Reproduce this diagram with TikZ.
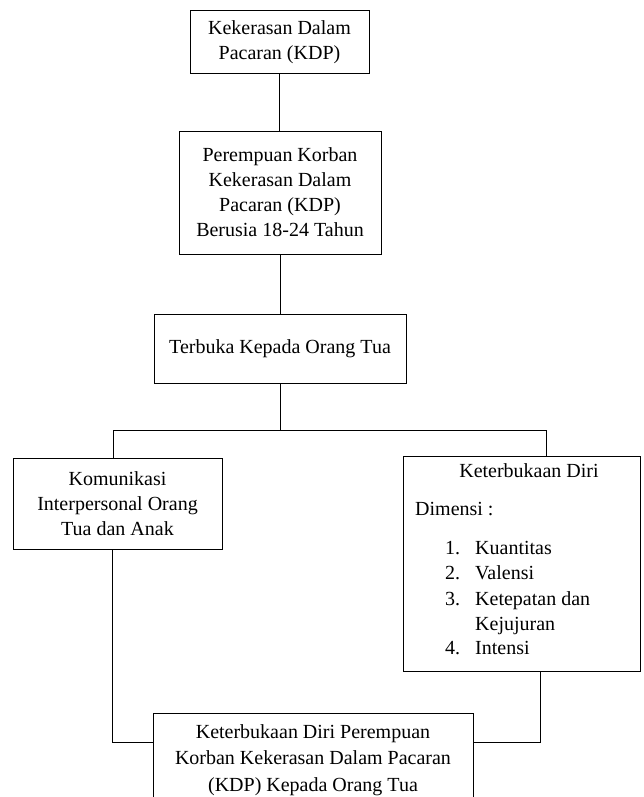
\documentclass[tikz,border=0pt]{standalone}
\usepackage{fontspec}
\setmainfont{Liberation Serif}
\begin{document}
\begin{tikzpicture}[x=1pt,y=-1pt,
  box/.style={draw, line width=1pt, align=center, inner sep=0pt, font=\fontsize{20}{25}\selectfont},
  txt/.style={inner sep=0pt, font=\fontsize{20}{25}\selectfont},
  link/.style={line width=1pt}]
\useasboundingbox (0,0) rectangle (644,797);
\node[box, minimum width=179pt, minimum height=63pt] (kdp) at (279.5,42.5) {Kekerasan Dalam\\Pacaran (KDP)};
\node[box, minimum width=202pt, minimum height=123pt] (korban) at (280,192.5) {Perempuan Korban\\Kekerasan Dalam\\Pacaran (KDP)\\Berusia 18-24 Tahun};
\node[box, minimum width=252pt, minimum height=69pt] (terbuka) at (280,348.5) {Terbuka Kepada Orang Tua};
\node[box, minimum width=209pt, minimum height=91pt] (kom) at (117.5,503.5) {Komunikasi\\Interpersonal Orang\\Tua dan Anak};
\node[box, minimum width=237pt, minimum height=215pt] (ket) at (521.5,563.5) {};
\node[box, font=\fontsize{20}{26.5}\selectfont, minimum width=320pt, minimum height=94pt] (akhir) at (313,760) {Keterbukaan Diri Perempuan\\Korban Kekerasan Dalam Pacaran\\(KDP) Kepada Orang Tua};
% texts in Keterbukaan Diri box
\node[txt, anchor=mid] (kt) at (529,475) {Keterbukaan Diri};
\node[txt, anchor=mid west] (dim) at (415,513) {Dimensi :};
\node[txt, anchor=mid west] (n1) at (445,552) {1.};
\node[txt, anchor=mid west] (n2) at (445,577) {2.};
\node[txt, anchor=mid west] (n3) at (445,603) {3.};
\node[txt, anchor=mid west] (n4) at (445,652) {4.};
\node[txt, anchor=mid west] (i1) at (475,552) {Kuantitas};
\node[txt, anchor=mid west] (i2) at (475,577) {Valensi};
\node[txt, anchor=mid west] (i3) at (475,603) {Ketepatan dan};
\node[txt, anchor=mid west] (i3b) at (475,628) {Kejujuran};
\node[txt, anchor=mid west] (i4) at (475,652) {Intensi};
% connectors
\draw[link] (kdp.south) -- (kdp.south |- korban.north);
\draw[link] (korban.south) -- (korban.south |- terbuka.north);
\coordinate (split) at (280,430);
\coordinate (jl) at (113,430);
\coordinate (jr) at (546,430);
\draw[link] (terbuka.south) -- (split);
\draw[link] (jl |- kom.north) -- (jl) -- (jr) -- (jr |- ket.north);
\coordinate (bl) at (112,742);
\coordinate (br) at (540,742);
\draw[link] (bl |- kom.south) -- (bl) -- (bl -| akhir.west);
\draw[link] (br |- ket.south) -- (br) -- (br -| akhir.east);
\end{tikzpicture}
\end{document}
